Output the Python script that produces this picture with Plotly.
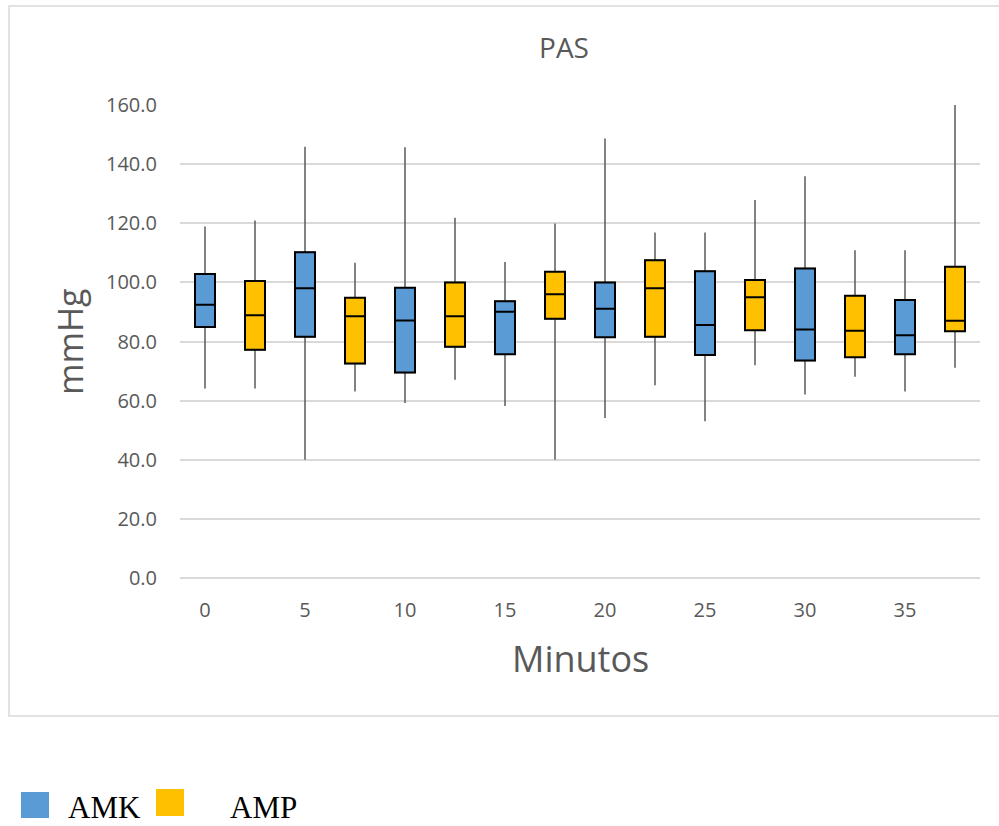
import plotly.graph_objects as go

# Data (mmHg)
amk_x = [0, 5, 10, 15, 20, 25, 30, 35]
amk_min = [64.1, 40.0, 59.2, 58.2, 54.1, 53.0, 62.1, 63.1]
amk_q1 = [84.9, 81.6, 69.5, 75.7, 81.4, 75.4, 73.6, 75.7]
amk_med = [92.4, 98.0, 87.1, 90.1, 91.1, 85.6, 84.1, 82.1]
amk_q3 = [102.8, 110.2, 98.2, 93.6, 100.0, 103.8, 104.7, 94.0]
amk_max = [118.9, 145.9, 145.7, 106.9, 148.7, 116.9, 135.9, 110.9]

amp_x = [2.5, 7.5, 12.5, 17.5, 22.5, 27.5, 32.5, 37.5]
amp_min = [64.1, 63.1, 67.1, 40.0, 65.2, 72.0, 68.1, 71.1]
amp_q1 = [77.2, 72.6, 78.2, 87.7, 81.6, 83.8, 74.7, 83.5]
amp_med = [88.9, 88.5, 88.5, 96.0, 98.0, 95.0, 83.6, 87.0]
amp_q3 = [100.5, 94.8, 100.0, 103.6, 107.5, 100.8, 95.5, 105.3]
amp_max = [120.9, 106.6, 121.9, 119.9, 116.9, 127.9, 110.9, 160.0]

x_ticks = [0, 5, 10, 15, 20, 25, 30, 35]
y_ticks = [0, 20, 40, 60, 80, 100, 120, 140, 160]

BLUE = "#5B9BD5"
YELLOW = "#FFC000"
GRAY = "#595959"
GRID = "#D9D9D9"
FONT = "Open Sans"

fig = go.Figure()

def add_series(name, xs, mn, q1, med, q3, mx, color):
    # whiskers (gray, no caps)
    fig.add_trace(go.Box(
        name=name, x=xs, q1=q1, median=med, q3=q3, lowerfence=mn, upperfence=mx,
        width=1.0, whiskerwidth=0, fillcolor="rgba(0,0,0,0)",
        line=dict(color=GRAY, width=1.5),
        boxpoints=False, showlegend=False, hoverinfo="skip"))
    # boxes (black outline)
    fig.add_trace(go.Box(
        name=name, x=xs, q1=q1, median=med, q3=q3, lowerfence=q1, upperfence=q3,
        width=1.0, whiskerwidth=0, fillcolor=color, line=dict(color="black", width=2),
        boxpoints=False, showlegend=False))

add_series("AMK", amk_x, amk_min, amk_q1, amk_med, amk_q3, amk_max, BLUE)
add_series("AMP", amp_x, amp_min, amp_q1, amp_med, amp_q3, amp_max, YELLOW)

L, T, R, B = 180, 105, 19, 248
W, H = 999, 826
pw, ph = W - L - R, H - T - B

def px(x):
    return (x - L) / pw

def py(y):
    return (H - B - y) / ph

shapes = [
    dict(type="rect", xref="paper", yref="paper", x0=px(9), x1=px(1010),
         y0=py(716), y1=py(6), line=dict(color=GRID, width=1.5), layer="below"),
    dict(type="rect", xref="paper", yref="paper", x0=px(21), x1=px(49),
         y0=py(818), y1=py(792), fillcolor=BLUE, line=dict(width=0)),
    dict(type="rect", xref="paper", yref="paper", x0=px(156), x1=px(184),
         y0=py(816), y1=py(789), fillcolor=YELLOW, line=dict(width=0)),
]

annotations = [
    dict(text="mmHg", xref="paper", yref="paper", x=px(70), y=py(342),
         xanchor="center", yanchor="middle",
         textangle=-90, showarrow=False, font=dict(family=FONT, size=34, color=GRAY)),
    dict(text="Minutos", xref="paper", yref="paper", x=px(580), y=py(658),
         xanchor="center", yanchor="middle",
         showarrow=False, font=dict(family=FONT, size=36, color=GRAY)),
    dict(text="AMK", xref="paper", yref="paper", x=px(66), y=py(807),
         xanchor="left", yanchor="middle", showarrow=False,
         font=dict(family="Liberation Serif", size=31, color="black")),
    dict(text="AMP", xref="paper", yref="paper", x=px(228), y=py(807),
         xanchor="left", yanchor="middle", showarrow=False,
         font=dict(family="Liberation Serif", size=31, color="black")),
]

fig.update_layout(
    width=W, height=H,
    margin=dict(l=L, r=R, t=T, b=B),
    paper_bgcolor="white", plot_bgcolor="white",
    boxmode="overlay",
    showlegend=False,
    title=dict(text="PAS", x=px(564), xref="paper", xanchor="center",
               y=1 - 48 / H, yref="container", yanchor="middle",
               font=dict(family=FONT, size=28, color=GRAY)),
    xaxis=dict(range=[-1.25, 38.75], tickvals=x_ticks, ticktext=[str(v) for v in x_ticks],
               showgrid=False, zeroline=False, showline=False, ticks="",
               ticklabelstandoff=18,
               tickfont=dict(family=FONT, size=20, color=GRAY)),
    yaxis=dict(range=[0, 160], tickvals=y_ticks, tickformat=".1f",
               showgrid=True, gridcolor=GRID, gridwidth=1.5,
               zeroline=True, zerolinecolor=GRID, zerolinewidth=1.5,
               showline=False, ticks="", ticklabelstandoff=22,
               tickfont=dict(family=FONT, size=20, color=GRAY)),
    shapes=shapes,
    annotations=annotations,
)

fig.write_html("out.html", config={"displayModeBar": False},
               post_script="document.body.style.margin='0';")
